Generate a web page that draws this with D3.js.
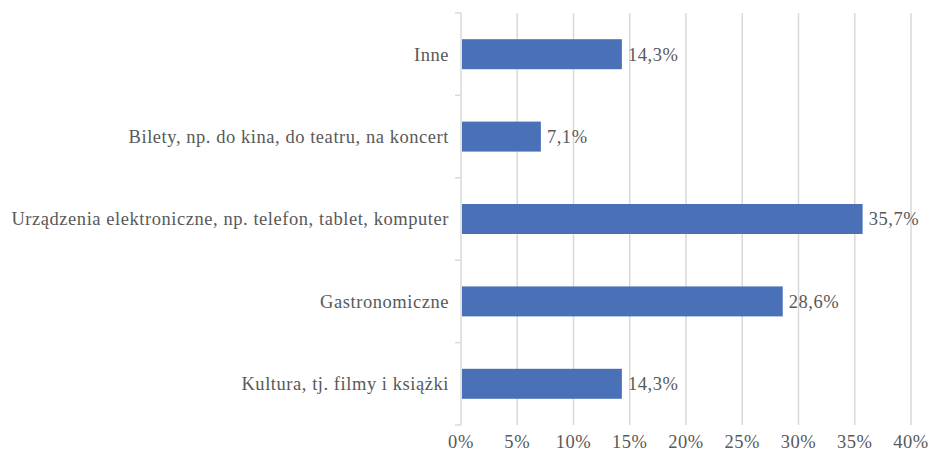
<!DOCTYPE html>
<meta charset="utf-8">
<head>
  <style>
  body { margin: 0; background: #fff; }
  .grid line { stroke: #d9d9d9; stroke-width: 1.5px; }
  </style>
</head>
<body>
<svg width="930" height="453"></svg>
<script src="https://d3js.org/d3.v7.min.js"></script>
<script>

// dane (od góry do dołu)
var categories = ["Inne", "Bilety, np. do kina, do teatru, na koncert",
  "Urządzenia elektroniczne, np. telefon, tablet, komputer",
  "Gastronomiczne", "Kultura, tj. filmy i książki"];
var values = [14.3, 7.1, 35.7, 28.6, 14.3];
var xTicks = [0, 5, 10, 15, 20, 25, 30, 35, 40];

var svg = d3.select("svg");
var mLeft = 461, mRight = 911, mTop = 13, mBottom = 425;

var x = d3.scaleLinear().domain([0, 40]).range([mLeft, mRight]);
var y = d3.scaleBand().domain(categories).range([mTop, mBottom]).paddingInner(0.636).paddingOuter(0.318);
var yb = d3.scaleBand().domain(categories).range([mTop, mBottom]);

var fmt = function(v) { return v.toFixed(1).replace(".", ",") + "%"; };

function styleText(sel) {
  sel.style("font-family", "'Liberation Serif'")
    .style("font-size", "18.5px")
    .style("letter-spacing", "0.55px")
    .style("fill", "#595959");
}

// siatka
svg.append("g").attr("class", "grid")
  .selectAll("line").data(xTicks).enter().append("line")
    .attr("x1", function(d) { return x(d); })
    .attr("x2", function(d) { return x(d); })
    .attr("y1", mTop).attr("y2", mBottom);

// znaczniki osi kategorii
var tickYs = categories.map(function(c) { return yb(c); }).concat([mBottom]);
svg.append("g").attr("class", "grid")
  .selectAll("line").data(tickYs).enter().append("line")
    .attr("x1", mLeft - 6).attr("x2", mLeft)
    .attr("y1", function(d) { return d; })
    .attr("y2", function(d) { return d; });

// słupki
svg.selectAll(".bar").data(values).enter().append("rect")
  .attr("class", "bar")
  .attr("x", x(0) + 1)
  .attr("y", function(d, i) { return y(categories[i]); })
  .attr("width", function(d) { return x(d) - x(0) - 1; })
  .attr("height", y.bandwidth())
  .attr("fill", "#4a71b8");

// etykiety wartości
svg.selectAll(".val").data(values).enter().append("text")
  .attr("class", "val")
  .attr("x", function(d) { return x(d) + 6; })
  .attr("y", function(d, i) { return y(categories[i]) + y.bandwidth() / 2; })
  .attr("dy", "0.35em")
  .call(styleText)
  .text(fmt);

// etykiety kategorii
svg.selectAll(".cat").data(categories).enter().append("text")
  .attr("class", "cat")
  .attr("x", mLeft - 12)
  .attr("y", function(d) { return y(d) + y.bandwidth() / 2; })
  .attr("dy", "0.35em")
  .attr("text-anchor", "end")
  .call(styleText)
  .text(function(d) { return d; });

// etykiety osi X
svg.selectAll(".xt").data(xTicks).enter().append("text")
  .attr("class", "xt")
  .attr("x", function(d) { return x(d); })
  .attr("y", 448)
  .attr("text-anchor", "middle")
  .call(styleText)
  .text(function(d) { return d + "%"; });

</script>
</body>
